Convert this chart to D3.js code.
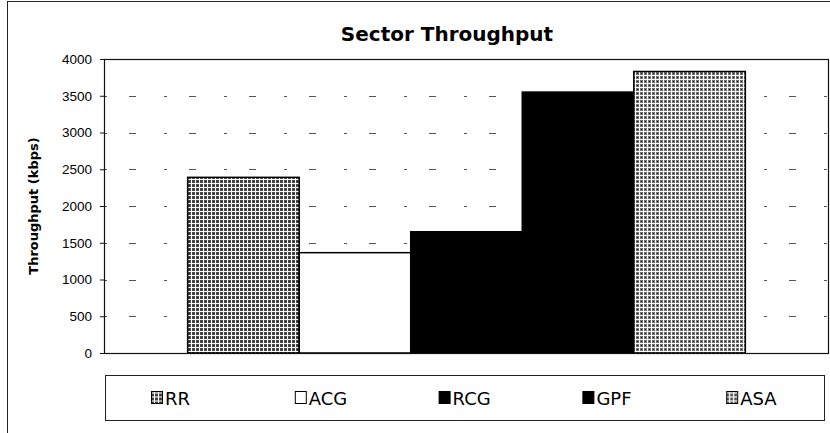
<!DOCTYPE html>
<html lang="en">
<head>
    <meta charset="UTF-8">
    <title>Sector Throughput</title>
    <script src="https://d3js.org/d3.v7.min.js"></script>
    <style>
        body { margin: 0; background: #fff; }
        svg { display: block; }
    </style>
</head>
<body>
    <div id="chart"></div>
    <script>
        // data
        const series = ["RR", "ACG", "RCG", "GPF", "ASA"]
        const values = [2390, 1365, 1650, 3550, 3830]
        const yTicks = [0, 500, 1000, 1500, 2000, 2500, 3000, 3500, 4000]

        const width = 830, height = 433
        const plot = {left: 104, right: 829, top: 59, bottom: 353}

        var svg = d3.select("#chart").append("svg")
            .attr("width", width)
            .attr("height", height)

        // fill patterns, looks like dithered grey in the scan
        var defs = svg.append("defs")
        function dither(id, base, step) {
            var p = defs.append("pattern")
                .attr("id", id)
                .attr("patternUnits", "userSpaceOnUse")
                .attr("width", step)
                .attr("height", step)
            p.append("rect").attr("width", step).attr("height", step).attr("fill", base)
            p.append("rect").attr("x", 0).attr("y", step - 1).attr("width", step).attr("height", 1).attr("fill", "#fff")
            p.append("rect").attr("x", step - 1).attr("y", 0).attr("width", 1).attr("height", step).attr("fill", "#fff")
            p.append("rect").attr("x", 1).attr("y", 1).attr("width", 1).attr("height", 1).attr("fill", "#222")
        }
        dither("ditherDark", "#4a4a4a", 4)
        dither("ditherLight", "#707070", 4)

        const fills = {
            RR: "url(#ditherDark)",
            ACG: "#fff",
            RCG: "#000",
            GPF: "#000",
            ASA: "url(#ditherLight)"
        }

        // outer frame of the chart
        svg.append("rect")
            .attr("x", 7.5)
            .attr("y", 1.5)
            .attr("width", 840)
            .attr("height", 460)
            .attr("fill", "none")
            .attr("stroke", "#222")
            .attr("stroke-width", 1)

        // title
        svg.append("text")
            .attr("x", 447)
            .attr("y", 41)
            .attr("text-anchor", "middle")
            .style("font-family", "'DejaVu Sans', Verdana, sans-serif")
            .style("font-weight", "bold")
            .style("font-size", "20px")
            .text("Sector Throughput")

        // scales
        var y = d3.scaleLinear()
            .domain([0, 4000])
            .range([plot.bottom, plot.top])

        var x = d3.scaleBand()
            .domain(series)
            .range([plot.left, plot.right])
            .paddingInner(0)
            .paddingOuter(0.75)

        // gridlines, broken up like in the scan
        svg.append("g")
            .selectAll("line")
            .data(yTicks.filter(d => d > 0 && d < 4000))
            .enter()
            .append("line")
                .attr("x1", plot.left)
                .attr("x2", plot.right)
                .attr("y1", d => Math.round(y(d)) + 0.5)
                .attr("y2", d => Math.round(y(d)) + 0.5)
                .attr("stroke", "#555")
                .attr("stroke-width", 1)
                .attr("stroke-dasharray", "3,22,7,28")

        // bars
        svg.append("g")
            .selectAll("rect")
            .data(series)
            .enter()
            .append("rect")
                .attr("x", d => x(d))
                .attr("y", (d, i) => y(values[i]))
                .attr("width", x.bandwidth())
                .attr("height", (d, i) => y(0) - y(values[i]))
                .attr("fill", d => fills[d])
                .attr("stroke", "#000")
                .attr("stroke-width", 1.5)

        // plot area border
        svg.append("rect")
            .attr("x", plot.left + 0.5)
            .attr("y", plot.top + 0.5)
            .attr("width", plot.right - plot.left - 1)
            .attr("height", plot.bottom - plot.top)
            .attr("fill", "none")
            .attr("stroke", "#111")
            .attr("stroke-width", 1.2)

        // y axis
        var yAxis = svg.append("g")
            .attr("transform", "translate(" + plot.left + ",0)")
            .call(d3.axisLeft(y).tickValues(yTicks).tickFormat(d3.format("d")).tickSize(4).tickPadding(8))
        yAxis.select(".domain").remove()
        yAxis.selectAll("line").attr("stroke", "#111")
        yAxis.selectAll("text")
            .style("font-family", "'Liberation Sans', Arial, sans-serif")
            .style("font-size", "13.5px")
            .attr("fill", "#000")

        // y axis title
        svg.append("text")
            .attr("transform", "translate(38," + (plot.top + plot.bottom) / 2 + ") rotate(-90)")
            .attr("text-anchor", "middle")
            .style("font-family", "'DejaVu Sans', Verdana, sans-serif")
            .style("font-weight", "bold")
            .style("font-size", "13px")
            .text("Throughput (kbps)")

        // legend
        const legendBox = {left: 105, right: 824, top: 375, bottom: 420}
        svg.append("rect")
            .attr("x", legendBox.left + 0.5)
            .attr("y", legendBox.top + 0.5)
            .attr("width", legendBox.right - legendBox.left)
            .attr("height", legendBox.bottom - legendBox.top)
            .attr("fill", "#fff")
            .attr("stroke", "#222")
            .attr("stroke-width", 1)

        var lx = d3.scaleBand()
            .domain(series)
            .range([legendBox.left, legendBox.right])

        var items = svg.append("g")
            .selectAll("g")
            .data(series)
            .enter()
            .append("g")
                .attr("transform", d => "translate(" + (lx(d) + 46) + "," + ((legendBox.top + legendBox.bottom) / 2) + ")")

        items.append("rect")
            .attr("x", 0.5)
            .attr("y", -6)
            .attr("width", 11)
            .attr("height", 12)
            .attr("fill", d => fills[d])
            .attr("stroke", "#000")
            .attr("stroke-width", 1)

        items.append("text")
            .attr("x", 14)
            .attr("y", 7)
            .style("font-family", "'DejaVu Sans', Verdana, sans-serif")
            .style("font-size", "18px")
            .text(d => d)
    </script>
</body>
</html>
